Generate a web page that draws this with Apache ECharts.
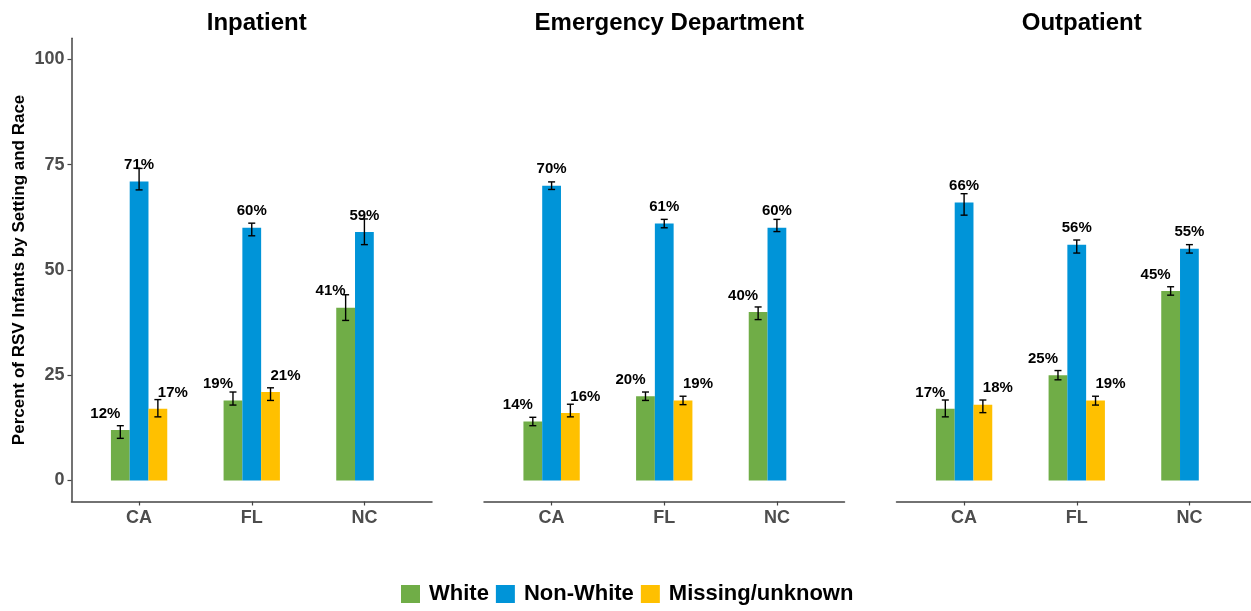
<!DOCTYPE html>
<html>
<head>
<meta charset="utf-8">
<script src="https://cdn.jsdelivr.net/npm/echarts@6/dist/echarts.min.js"></script>
<style>
  html, body { margin: 0; padding: 0; background: #ffffff; }
  #chart { width: 1251px; height: 611px; }
</style>
</head>
<body>
<div id="chart"></div>
<script>
// Share of RSV infants by care setting, state and race, with confidence intervals
const states = ['CA', 'FL', 'NC'];
const settings = ['Inpatient', 'Emergency Department', 'Outpatient'];
const groups = ['White', 'Non-White', 'Missing/unknown'];
const yTickValues = [0, 25, 50, 75, 100];

// Inpatient
const inpatientWhite = [12, 19, 41];
const inpatientNonWhite = [71, 60, 59];
const inpatientMissing = [17, 21, null];
const inpatientWhiteCI = [[10.0, 13.0], [17.9, 21.0], [38.0, 44.1]];
const inpatientNonWhiteCI = [[69.0, 74.1], [58.1, 61.1], [56.0, 62.1]];
const inpatientMissingCI = [[15.1, 19.2], [19.0, 22.0], null];

// Emergency Department
const edWhite = [14, 20, 40];
const edNonWhite = [70, 61, 60];
const edMissing = [16, 19, null];
const edWhiteCI = [[13.0, 15.0], [19.0, 21.0], [38.2, 41.2]];
const edNonWhiteCI = [[69.1, 70.9], [60.0, 62.0], [59.1, 62.0]];
const edMissingCI = [[15.1, 18.1], [18.0, 20.0], null];

// Outpatient
const opWhite = [17, 25, 45];
const opNonWhite = [66, 56, 55];
const opMissing = [18, 19, null];
const opWhiteCI = [[15.1, 19.1], [23.9, 26.1], [44.0, 46.0]];
const opNonWhiteCI = [[63.0, 68.1], [54.0, 57.1], [54.0, 56.0]];
const opMissingCI = [[16.1, 19.1], [17.9, 20.0], null];

const panelValues = [
  [inpatientWhite, inpatientNonWhite, inpatientMissing],
  [edWhite, edNonWhite, edMissing],
  [opWhite, opNonWhite, opMissing]
];
const panelCI = [
  [inpatientWhiteCI, inpatientNonWhiteCI, inpatientMissingCI],
  [edWhiteCI, edNonWhiteCI, edMissingCI],
  [opWhiteCI, opNonWhiteCI, opMissingCI]
];

const colors = ['#70AD47', '#0094D8', '#FFC000'];
const FONT = '"Liberation Sans", Arial, Helvetica, sans-serif';
const AXIS_COLOR = '#444444';
const TICK_TEXT = '#4d4d4d';

// Panel geometry: discrete axis padded by 0.6 of a band on each side
const PANEL_X0 = 71.5, PANEL_STEP = 412.5, PANEL_W = 360.5;
const GRID_TOP = 38.3, GRID_H = 463.2;
const BAND = PANEL_W / 3.2;
const INNER_PAD = BAND * 0.1;
const Y_MIN = -5, Y_MAX = 105;
const labelShift = [-15, 0, 15];

function errorBarRenderer(slot) {
  return function (params, api) {
    const cat = api.value(0);
    const lo = api.coord([cat, api.value(1)]);
    const hi = api.coord([cat, api.value(2)]);
    const band = api.size([1, 0])[0];
    const x = lo[0] + (slot - 1) * band / 6;
    const cap = 3.5;
    const style = { stroke: '#000000', lineWidth: 1.4 };
    return {
      type: 'group',
      children: [
        { type: 'line', shape: { x1: x, y1: lo[1], x2: x, y2: hi[1] }, style },
        { type: 'line', shape: { x1: x - cap, y1: hi[1], x2: x + cap, y2: hi[1] }, style },
        { type: 'line', shape: { x1: x - cap, y1: lo[1], x2: x + cap, y2: lo[1] }, style }
      ]
    };
  };
}

const grid = [], xAxis = [], yAxis = [], series = [], title = [];

settings.forEach((name, p) => {
  const left = PANEL_X0 + p * PANEL_STEP;
  const outer = grid.length;
  // outer frame carrying the full-width axis lines
  grid.push({ left: left, top: GRID_TOP, width: PANEL_W, height: GRID_H });
  const inner = grid.length;
  grid.push({ left: left + INNER_PAD, top: GRID_TOP, width: PANEL_W - 2 * INNER_PAD, height: GRID_H });

  title.push({
    text: name,
    left: left + PANEL_W / 2,
    top: 6,
    textAlign: 'center',
    textStyle: { fontFamily: FONT, fontWeight: 'bold', fontSize: 24, color: '#000000' }
  });

  xAxis.push({
    gridIndex: outer, type: 'value', min: 0, max: 1,
    axisLine: { show: true, onZero: false, lineStyle: { color: AXIS_COLOR, width: 1.5 } },
    axisTick: { show: false }, axisLabel: { show: false }, splitLine: { show: false }
  });
  xAxis.push({
    gridIndex: inner, type: 'category', data: states,
    axisLine: { show: false, onZero: false },
    axisTick: { show: true, alignWithLabel: true, length: 4, lineStyle: { color: AXIS_COLOR, width: 1.2 } },
    axisLabel: { margin: 8, fontFamily: FONT, fontWeight: 'bold', fontSize: 18, color: TICK_TEXT },
    splitLine: { show: false }
  });

  if (p === 0) {
    yAxis.push({
      gridIndex: outer, type: 'value', min: Y_MIN, max: Y_MAX,
      name: 'Percent of RSV Infants by Setting and Race',
      nameLocation: 'middle', nameGap: 44, nameRotate: 90,
      nameTextStyle: { fontFamily: FONT, fontWeight: 'bold', fontSize: 17, color: '#000000' },
      axisLine: { show: true, lineStyle: { color: AXIS_COLOR, width: 1.5 } },
      axisTick: { show: true, length: 4, customValues: yTickValues, lineStyle: { color: AXIS_COLOR, width: 1.2 } },
      axisLabel: { customValues: yTickValues, margin: 7, fontFamily: FONT, fontWeight: 'bold', fontSize: 18, color: TICK_TEXT },
      splitLine: { show: false }
    });
  } else {
    yAxis.push({ gridIndex: outer, type: 'value', min: Y_MIN, max: Y_MAX, show: false, splitLine: { show: false } });
  }
  yAxis.push({ gridIndex: inner, type: 'value', min: Y_MIN, max: Y_MAX, show: false, splitLine: { show: false } });

  groups.forEach((g, s) => {
    series.push({
      name: g, type: 'bar',
      xAxisIndex: inner, yAxisIndex: inner,
      data: panelValues[p][s],
      barWidth: '16.6667%', barGap: '0%',
      itemStyle: { color: colors[s] },
      label: {
        show: true, position: 'top', distance: 9, offset: [labelShift[s], 0],
        formatter: '{c}%',
        fontFamily: FONT, fontWeight: 'bold', fontSize: 15, color: '#000000'
      },
      z: 2
    });
  });

  groups.forEach((g, s) => {
    const ciData = [];
    panelCI[p][s].forEach((ci, i) => { if (ci) ciData.push([i, ci[0], ci[1]]); });
    series.push({
      name: g + ' CI', type: 'custom',
      xAxisIndex: inner, yAxisIndex: inner,
      renderItem: errorBarRenderer(s),
      encode: { x: 0, y: [1, 2] },
      data: ciData,
      z: 3, silent: true
    });
  });
});

const chart = echarts.init(document.getElementById('chart'), null, { renderer: 'canvas' });
chart.setOption({
  backgroundColor: '#ffffff',
  animation: false,
  color: colors,
  title: title,
  legend: {
    data: groups,
    left: 396, top: 578,
    icon: 'rect', itemWidth: 19, itemHeight: 18, itemGap: 7,
    textStyle: { fontFamily: FONT, fontWeight: 'bold', fontSize: 22, color: '#000000', padding: [0, 0, 0, 4] }
  },
  grid: grid,
  xAxis: xAxis,
  yAxis: yAxis,
  series: series
});
</script>
</body>
</html>
